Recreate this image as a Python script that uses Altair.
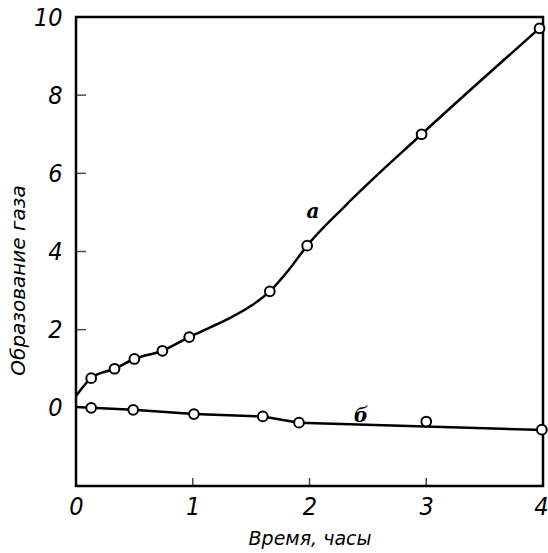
import altair as alt
import pandas as pd

# Curve "а": measured points
a_time = [0.13, 0.33, 0.50, 0.74, 0.97, 1.66, 1.98, 2.96, 3.97]
a_gas = [0.76, 1.00, 1.25, 1.46, 1.81, 2.98, 4.15, 7.00, 9.71]
# Curve "а": the drawn smooth curve, traced along its path
a_curve_time = [0.0, 0.13, 0.33, 0.50, 0.74, 0.97, 1.15, 1.30, 1.50, 1.66, 1.82, 1.98, 2.30, 2.96, 3.97]
a_curve_gas = [0.30, 0.76, 1.00, 1.25, 1.46, 1.81, 2.06, 2.27, 2.61, 2.98, 3.52, 4.15, 5.15, 7.00, 9.71]

# Curve "б": measured points and the fitted line
b_time = [0.13, 0.49, 1.01, 1.60, 1.91, 3.00, 3.99]
b_gas = [0.00, -0.05, -0.16, -0.22, -0.38, -0.35, -0.56]
b_curve_time = [0.0, 0.13, 0.49, 1.01, 1.60, 1.91, 4.00]
b_curve_gas = [0.02, 0.00, -0.05, -0.16, -0.22, -0.38, -0.57]

# Axis ticks and labels
x_label_values = [0, 1, 2, 3, 4]
y_label_values = [0, 2, 4, 6, 8, 10]
x_tick_values = [1, 2, 3]
y_tick_values = [2, 4, 6, 8]

# Curve names and where they sit
curve_names = ["а", "б"]
curve_name_time = [2.03, 2.44]
curve_name_gas = [5.0, -0.22]

FONT = "Liberation Sans Narrow, DejaVu Sans Condensed, sans-serif"

x_scale = alt.Scale(domain=[0, 4], nice=False, zero=False)
y_scale = alt.Scale(domain=[-2, 10], nice=False, zero=False)

x_axis = alt.Axis(
    values=x_label_values, ticks=False, domain=False, grid=False,
    labelFont=FONT, labelFontStyle="italic", labelFontSize=25, labelColor="black",
    labelPadding=8, labelFlush=False,
    # the last label is kept inside the page
    labelAlign=alt.expr("datum.value == 4 ? 'right' : 'center'"),
    labelOffset=alt.expr("datum.value == 4 ? 5 : 0"),
    titleFont="DejaVu Sans", titleFontStyle="italic", titleFontWeight="normal",
    titleFontSize=19, titleColor="black", titlePadding=10,
)
y_axis = alt.Axis(
    values=y_label_values, ticks=False, domain=False, grid=False,
    labelFont=FONT, labelFontStyle="italic", labelFontSize=25, labelColor="black",
    labelPadding=14, labelFlush=False,
    titleFont="DejaVu Sans", titleFontStyle="italic", titleFontWeight="normal",
    titleFontSize=20, titleColor="black", titlePadding=5, titleY=263,
)

# One shared pair of position encodings for every layer
X = alt.X("t:Q", scale=x_scale, axis=x_axis, title="Время, часы")
Y = alt.Y("g:Q", scale=y_scale, axis=y_axis, title="Образование газа")

a_curve = pd.DataFrame({"t": a_curve_time, "g": a_curve_gas})
a_pts = pd.DataFrame({"t": a_time, "g": a_gas})
b_curve = pd.DataFrame({"t": b_curve_time, "g": b_curve_gas})
b_pts = pd.DataFrame({"t": b_time, "g": b_gas})

line_a = alt.Chart(a_curve).mark_line(
    interpolate="monotone", color="black", strokeWidth=2.5, clip=False
).encode(x=X, y=Y, order="t:Q")

line_b = alt.Chart(b_curve).mark_line(
    color="black", strokeWidth=2.5, clip=False
).encode(x=X, y=Y, order="t:Q")

point_style = dict(shape="circle", filled=False, fill="white", fillOpacity=1,
                   stroke="black", strokeWidth=2, size=95, opacity=1, clip=False)

pts_a = alt.Chart(a_pts).mark_point(**point_style).encode(x=X, y=Y)
pts_b = alt.Chart(b_pts).mark_point(**point_style).encode(x=X, y=Y)

# Inward tick marks on the bottom and left edges
x_ticks = alt.Chart(pd.DataFrame({"t": x_tick_values, "g": [-2] * len(x_tick_values)})).mark_tick(
    orient="vertical", size=8, thickness=1.5, color="black", yOffset=-4
).encode(x=X, y=Y)
y_ticks = alt.Chart(pd.DataFrame({"t": [0] * len(y_tick_values), "g": y_tick_values})).mark_tick(
    orient="horizontal", size=10, thickness=1.5, color="black", xOffset=5
).encode(x=X, y=Y)

names = alt.Chart(pd.DataFrame({
    "t": curve_name_time, "g": curve_name_gas, "name": curve_names
})).mark_text(
    font="DejaVu Serif", fontStyle="italic", fontWeight="bold", fontSize=20,
    color="black", baseline="middle", align="center"
).encode(x=X, y=Y, text="name:N")

chart = alt.layer(
    line_a, line_b, x_ticks, y_ticks, pts_a, pts_b, names
).properties(
    width=467, height=469,
    autosize=alt.AutoSizeParams(type="none"),
    padding={"left": 76, "top": 17, "right": 5, "bottom": 67},
    background="white",
).configure_view(
    stroke="black", strokeWidth=2.5,
)

chart.save("out.html", embed_options={"renderer": "svg", "actions": False})
